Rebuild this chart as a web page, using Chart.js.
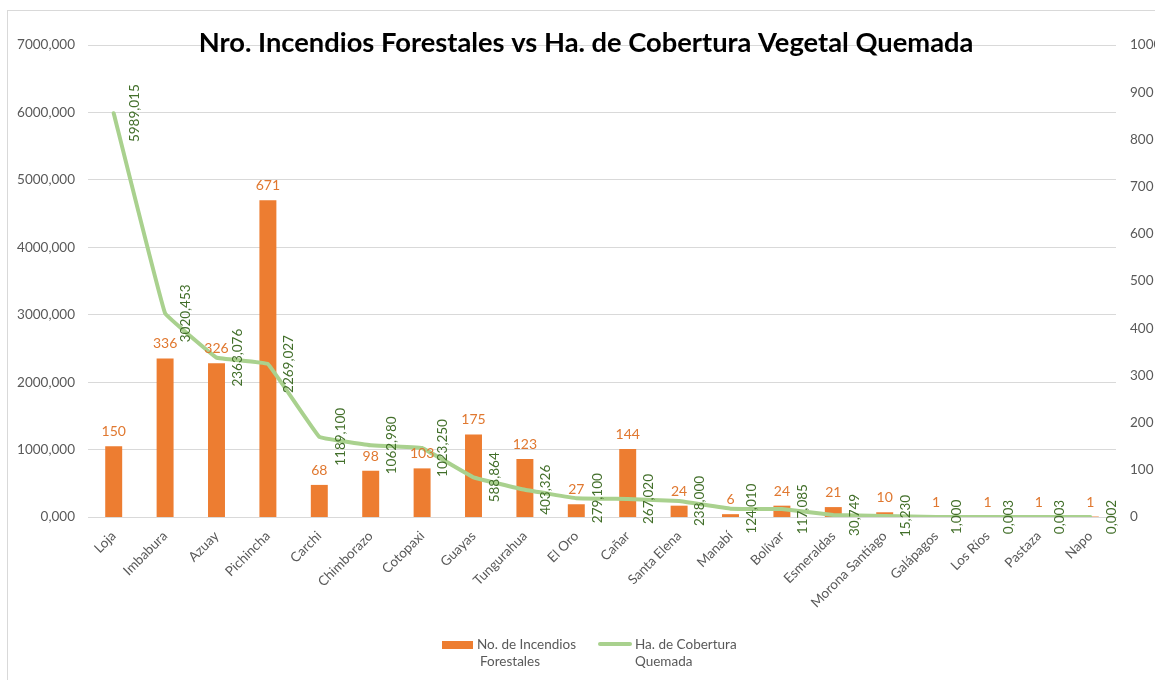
<!DOCTYPE html>
<html>
<head>
<meta charset="utf-8">
<script src="https://cdn.jsdelivr.net/npm/chart.js@4.4.1/dist/chart.umd.min.js"></script>
<style>
html,body{margin:0;padding:0;background:#fff;}
#wrap{position:relative;width:1155px;height:680px;overflow:hidden;}
#frame{position:absolute;left:7px;top:10px;width:1170px;height:700px;border:1px solid #D9D9D9;box-sizing:border-box;}
#c{position:absolute;left:0;top:0;}
.lg{position:absolute;font-family:Lato, "Open Sans", sans-serif;font-size:13.5px;color:#595959;line-height:17px;white-space:nowrap;}
.sw{position:absolute;}
</style>
</head>
<body>
<div id="wrap">
  <div id="frame"></div>
  <canvas id="c" width="1155" height="680"></canvas>
  <div class="sw" style="left:442px;top:641px;width:31px;height:8px;background:#ED7D31;"></div>
  <div class="lg" style="left:477px;top:636px;">No. de Incendios<br><span style="padding-left:3px">Forestales</span></div>
  <div class="sw" style="left:598px;top:642px;width:34px;height:4px;border-radius:2px;background:#A9D18E;"></div>
  <div class="lg" style="left:635px;top:636px;">Ha. de Cobertura<br>Quemada</div>
</div>
<script>
const chartTitle = 'Nro. Incendios Forestales vs Ha. de Cobertura Vegetal Quemada';
const categories = ['Loja','Imbabura','Azuay','Pichincha','Carchi','Chimborazo','Cotopaxi','Guayas','Tungurahua','El Oro','Cañar','Santa Elena','Manabí','Bolívar','Esmeraldas','Morona Santiago','Galápagos','Los Ríos','Pastaza','Napo'];
const incendios = [150,336,326,671,68,98,103,175,123,27,144,24,6,24,21,10,1,1,1,1];
const hectareas = [5989.015,3020.453,2363.076,2269.027,1189.100,1062.980,1023.250,588.864,403.326,279.100,267.020,238.000,124.010,117.085,30.749,15.230,1.000,0.003,0.003,0.002];
const leftTickLabels = ['0,000','1000,000','2000,000','3000,000','4000,000','5000,000','6000,000','7000,000'];
const rightTickLabels = ['0','100','200','300','400','500','600','700','800','900','1000'];
const seriesNames = ['No. de Incendios Forestales','Ha. de Cobertura Quemada'];

const FONT = 'Lato, "Open Sans", sans-serif';
const fmt3 = v => v.toFixed(3).replace('.', ',');

const labelPlugin = {
  id: 'valueLabels',
  afterDatasetsDraw(chart) {
    const ctx = chart.ctx;
    ctx.save();
    const bm = chart.getDatasetMeta(0);
    ctx.font = '14px ' + FONT;
    ctx.fillStyle = '#E07830';
    ctx.textAlign = 'center';
    ctx.textBaseline = 'alphabetic';
    bm.data.forEach((el, i) => {
      ctx.fillText(String(incendios[i]), el.x, el.y - 10);
    });
    const lm = chart.getDatasetMeta(1);
    ctx.fillStyle = '#426F2A';
    ctx.font = '13.5px ' + FONT;
    lm.data.forEach((el, i) => {
      ctx.save();
      ctx.translate(el.x + 21, el.y);
      ctx.rotate(-Math.PI / 2);
      ctx.textAlign = 'center';
      ctx.textBaseline = 'middle';
      ctx.fillText(fmt3(hectareas[i]), 0, 0);
      ctx.restore();
    });
    ctx.restore();
  },
  afterDraw(chart) {
    const ctx = chart.ctx;
    ctx.save();
    ctx.font = 'bold 27.3px ' + FONT;
    ctx.fillStyle = '#000';
    ctx.textAlign = 'center';
    ctx.textBaseline = 'alphabetic';
    ctx.fillText(chartTitle, 586, 52);
    ctx.restore();
  }
};

new Chart(document.getElementById('c'), {
  type: 'bar',
  data: {
    labels: categories,
    datasets: [
      {
        type: 'bar',
        label: seriesNames[0],
        data: incendios,
        yAxisID: 'y1',
        backgroundColor: '#ED7D31',
        barPercentage: 0.33,
        categoryPercentage: 1,
        order: 1
      },
      {
        type: 'line',
        label: seriesNames[1],
        data: hectareas,
        yAxisID: 'y',
        borderColor: '#A9D18E',
        borderWidth: 4,
        borderJoinStyle: 'round',
        borderCapStyle: 'round',
        tension: 0.05,
        pointRadius: 0,
        fill: false,
        order: 0
      }
    ]
  },
  options: {
    responsive: false,
    animation: false,
    layout: { padding: { top: 45, left: 0, right: 0, bottom: 0 } },
    plugins: {
      legend: { display: false },
      tooltip: { enabled: false },
      title: { display: false }
    },
    scales: {
      x: {
        grid: { display: false, drawTicks: false },
        border: { display: true, color: '#D9D9D9' },
        ticks: {
          color: '#595959',
          font: { family: FONT, size: 13.5 },
          minRotation: 45,
          maxRotation: 45,
          autoSkip: false,
          padding: 11
        },
        afterFit(s) { s.height = 163; }
      },
      y: {
        position: 'left',
        min: 0,
        max: 7000,
        grid: { color: '#D9D9D9', drawTicks: false },
        border: { display: false },
        ticks: {
          stepSize: 1000,
          color: '#595959',
          font: { family: FONT, size: 13.5 },
          padding: 13,
          callback: (v, i) => leftTickLabels[i]
        },
        afterFit(s) { s.width = 88; }
      },
      y1: {
        position: 'right',
        min: 0,
        max: 1000,
        grid: { display: false, drawTicks: false },
        border: { display: false },
        ticks: {
          stepSize: 100,
          color: '#595959',
          font: { family: FONT, size: 13.5 },
          padding: 14,
          callback: (v, i) => rightTickLabels[i]
        },
        afterFit(s) { s.width = 39; }
      }
    }
  },
  plugins: [labelPlugin]
});
</script>
</body>
</html>
